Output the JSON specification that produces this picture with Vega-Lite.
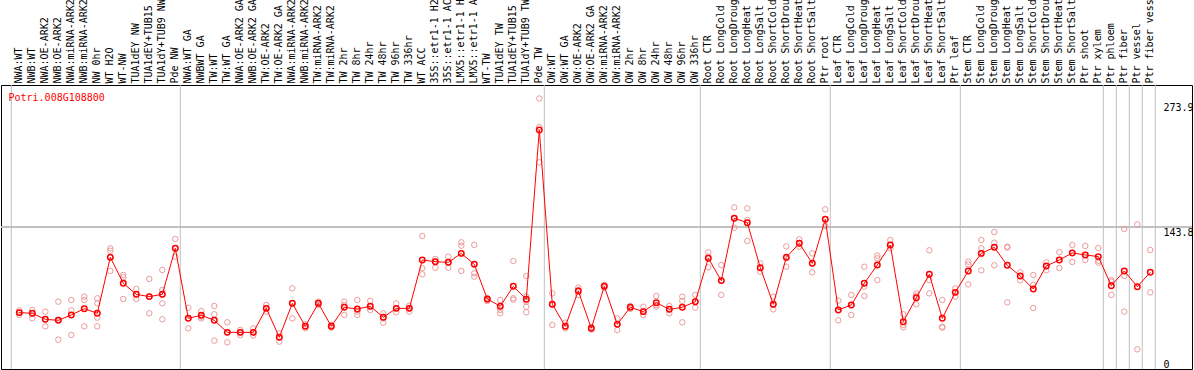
{
 "$schema": "https://vega.github.io/schema/vega-lite/v6.json",
 "width": 1191, "height": 284,
 "autosize": {"type": "none"},
 "padding": {"left": 1, "top": 85, "right": 2, "bottom": 1},
 "background": "white",
 "config": {"view": {"stroke": "black", "strokeWidth": 1}, "font": "DejaVu Sans Mono"},
 "title": {"text": "Potri.008G108800", "orient": "bottom", "anchor": "start", "offset": -277, "dx": 8, "color": "#ff0000", "font": "DejaVu Sans Mono", "fontSize": 10, "fontWeight": "normal"},
 "data": {"values": [
  {"sample": "NWA:WT", "mean": 57.1, "reps": [59.4, 57.1, 54.7]},
  {"sample": "NWB:WT", "mean": 56.4, "reps": [59.8, 56.4, 51.3]},
  {"sample": "NWA:OE-ARK2", "mean": 50.3, "reps": [58.1, 50.3, 43.2]},
  {"sample": "NWB:OE-ARK2", "mean": 49.3, "reps": [68.2, 50.0, 29.7]},
  {"sample": "NWA:miRNA-ARK2", "mean": 54.7, "reps": [69.9, 59.4, 34.4]},
  {"sample": "NWB:miRNA-ARK2", "mean": 61.1, "reps": [73.3, 69.9, 43.2]},
  {"sample": "NW 0hr", "mean": 56.4, "reps": [71.6, 66.5, 52.0, 43.2]},
  {"sample": "WT H2O", "mean": 113.1, "reps": [122.2, 119.8, 113.1, 99.3]},
  {"sample": "WT-NW", "mean": 86.8, "reps": [95.2, 92.8, 70.9]},
  {"sample": "TUA1dEY NW", "mean": 75.6, "reps": [81.0, 75.6, 70.9]},
  {"sample": "TUA1dEY+TUB15 NW", "mean": 73.3, "reps": [91.2, 73.3, 56.4]},
  {"sample": "TUA1dY+TUB9 NW", "mean": 75.6, "reps": [100.3, 80.0, 75.0, 66.5, 50.3]},
  {"sample": "Pde NW", "mean": 122.2, "reps": [131.7, 122.2, 113.8]},
  {"sample": "NWA:WT GA", "mean": 51.3, "reps": [62.1, 51.3, 41.2]},
  {"sample": "NWBWT GA", "mean": 54.4, "reps": [58.7, 53.0, 51.3]},
  {"sample": "TW:WT", "mean": 49.3, "reps": [63.8, 55.4, 28.7]},
  {"sample": "TW:WT GA", "mean": 37.1, "reps": [47.3, 37.1, 27.0]},
  {"sample": "NWA:OE-ARK2 GA", "mean": 37.1, "reps": [39.5, 37.1, 34.4]},
  {"sample": "NWB:OE-ARK2 GA", "mean": 37.1, "reps": [41.2, 37.1, 33.8]},
  {"sample": "TW:OE-ARK2", "mean": 61.4, "reps": [64.8, 61.4, 58.1]},
  {"sample": "TW:OE-ARK2 GA", "mean": 32.1, "reps": [36.1, 32.1, 27.7]},
  {"sample": "NWA:miRNA-ARK2 GA", "mean": 66.5, "reps": [81.7, 66.5, 51.3]},
  {"sample": "NWB:miRNA-ARK2 GA", "mean": 43.2, "reps": [45.2, 43.2, 41.2]},
  {"sample": "TW:miRNA-ARK2", "mean": 66.5, "reps": [68.2, 66.5, 64.8]},
  {"sample": "TW:miRNA-ARK2 GA", "mean": 43.2, "reps": [44.6, 43.2, 41.9]},
  {"sample": "TW 2hr", "mean": 62.5, "reps": [68.2, 64.8, 54.7]},
  {"sample": "TW 8hr", "mean": 60.8, "reps": [69.9, 58.1, 54.7]},
  {"sample": "TW 24hr", "mean": 63.5, "reps": [68.9, 63.1, 59.8]},
  {"sample": "TW 48hr", "mean": 52.3, "reps": [56.4, 51.3, 46.9]},
  {"sample": "TW 96hr", "mean": 61.4, "reps": [66.5, 61.4, 57.4]},
  {"sample": "TW 336hr", "mean": 61.4, "reps": [64.1, 61.4, 58.1]},
  {"sample": "WT ACC", "mean": 110.4, "reps": [134.7, 102.0, 95.9]},
  {"sample": "35S::etr1-1 H2O", "mean": 108.7, "reps": [111.4, 108.7, 102.6]},
  {"sample": "35S::etr1-1 ACC", "mean": 108.0, "reps": [113.8, 108.0, 102.6]},
  {"sample": "LMX5::etr1-1 H2O", "mean": 117.1, "reps": [128.3, 124.9, 99.3]},
  {"sample": "LMX5::etr1-1 ACC", "mean": 106.0, "reps": [125.6, 96.9, 93.5]},
  {"sample": "WT-TW", "mean": 70.9, "reps": [71.6, 69.9, 68.9]},
  {"sample": "TUA1dEY TW", "mean": 63.5, "reps": [69.9, 59.8, 56.4]},
  {"sample": "TUA1dEY+TUB15 TW", "mean": 83.7, "reps": [109.4, 71.6, 70.2]},
  {"sample": "TUA1dY+TUB9 TW", "mean": 70.6, "reps": [94.2, 73.3, 68.2, 63.1, 57.4]},
  {"sample": "Pde TW", "mean": 242.1, "reps": [273.9, 245.0, 209.3]},
  {"sample": "OW:WT", "mean": 65.5, "reps": [76.6, 65.5, 44.6]},
  {"sample": "OW:WT GA", "mean": 43.2, "reps": [46.9, 43.2, 41.2]},
  {"sample": "OW:OE-ARK2", "mean": 79.0, "reps": [82.4, 80.0, 75.0]},
  {"sample": "OW:OE-ARK2 GA", "mean": 41.2, "reps": [42.5, 41.2, 39.8]},
  {"sample": "OW:miRNA-ARK2", "mean": 83.7, "reps": [85.1, 83.7, 82.4]},
  {"sample": "OW:miRNA-ARK2 GA", "mean": 45.2, "reps": [51.3, 45.2, 39.5]},
  {"sample": "OW 2hr", "mean": 62.5, "reps": [63.8, 62.5, 60.8]},
  {"sample": "OW 8hr", "mean": 58.1, "reps": [63.1, 58.1, 54.7]},
  {"sample": "OW 24hr", "mean": 67.2, "reps": [73.9, 64.8, 63.1]},
  {"sample": "OW 48hr", "mean": 60.4, "reps": [63.8, 60.4, 56.4]},
  {"sample": "OW 96hr", "mean": 62.5, "reps": [73.3, 68.9, 47.3]},
  {"sample": "OW 336hr", "mean": 68.2, "reps": [75.0, 68.2, 62.1]},
  {"sample": "Root CTR", "mean": 112.1, "reps": [118.2, 113.8, 103.0]},
  {"sample": "Root LongCold", "mean": 89.5, "reps": [105.3, 89.5, 75.0]},
  {"sample": "Root LongDrought", "mean": 152.6, "reps": [163.7, 152.6, 143.1]},
  {"sample": "Root LongHeat", "mean": 148.2, "reps": [162.7, 150.9, 129.6]},
  {"sample": "Root LongSalt", "mean": 102.6, "reps": [107.0, 102.6, 98.6]},
  {"sample": "Root ShortCold", "mean": 65.5, "reps": [73.3, 64.8, 60.4]},
  {"sample": "Root ShortDrought", "mean": 113.1, "reps": [124.2, 112.1, 103.6]},
  {"sample": "Root ShortHeat", "mean": 127.3, "reps": [131.3, 127.3, 123.9]},
  {"sample": "Root ShortSalt", "mean": 107.0, "reps": [117.1, 107.0, 97.9]},
  {"sample": "Ptr root", "mean": 151.6, "reps": [161.7, 151.6, 144.8]},
  {"sample": "Leaf CTR", "mean": 59.8, "reps": [69.2, 59.8, 49.3]},
  {"sample": "Leaf LongCold", "mean": 64.8, "reps": [75.0, 64.8, 54.7]},
  {"sample": "Leaf LongDrought", "mean": 86.8, "reps": [103.6, 83.4, 73.9]},
  {"sample": "Leaf LongHeat", "mean": 105.3, "reps": [114.8, 112.1, 90.1]},
  {"sample": "Leaf LongSalt", "mean": 125.6, "reps": [130.6, 125.6, 122.2]},
  {"sample": "Leaf ShortCold", "mean": 47.9, "reps": [55.4, 44.6, 42.2]},
  {"sample": "Leaf ShortDrought", "mean": 72.2, "reps": [76.6, 74.3, 65.5]},
  {"sample": "Leaf ShortHeat", "mean": 95.9, "reps": [120.2, 90.1, 76.6]},
  {"sample": "Leaf ShortSalt", "mean": 51.3, "reps": [69.9, 42.9, 41.9]},
  {"sample": "Ptr leaf", "mean": 77.6, "reps": [81.7, 77.6, 73.3]},
  {"sample": "Stem CTR", "mean": 99.3, "reps": [108.7, 106.0, 85.7]},
  {"sample": "Stem LongCold", "mean": 117.1, "reps": [130.6, 122.2, 99.9]},
  {"sample": "Stem LongDrought", "mean": 123.2, "reps": [138.7, 127.9, 105.0]},
  {"sample": "Stem LongHeat", "mean": 105.0, "reps": [123.9, 122.9, 67.5]},
  {"sample": "Stem LongSalt", "mean": 94.2, "reps": [97.9, 94.2, 89.8]},
  {"sample": "Stem ShortCold", "mean": 81.0, "reps": [95.2, 85.1, 61.8]},
  {"sample": "Stem ShortDrought", "mean": 104.3, "reps": [108.0, 104.3, 99.9]},
  {"sample": "Stem ShortHeat", "mean": 110.4, "reps": [118.2, 110.4, 102.3]},
  {"sample": "Stem ShortSalt", "mean": 117.5, "reps": [125.6, 117.5, 108.4]},
  {"sample": "Ptr shoot", "mean": 115.5, "reps": [124.6, 115.5, 110.4]},
  {"sample": "Ptr xylem", "mean": 113.8, "reps": [122.5, 109.7, 107.7]},
  {"sample": "Ptr phloem", "mean": 84.4, "reps": [90.1, 88.4, 75.0]},
  {"sample": "Ptr fiber", "mean": 99.3, "reps": [141.8, 94.2, 58.1]},
  {"sample": "Ptr vessel", "mean": 83.4, "reps": [146.5, 19.9]},
  {"sample": "Ptr fiber vessel", "mean": 97.9, "reps": [120.5, 77.6]}
 ]},
 "layer": [
  {
   "mark": {"type": "rule", "color": "#c0c0c0", "strokeWidth": 1},
   "encoding": {"y": {"datum": 143.8, "type": "quantitative"}}
  },
  {
   "transform": [{"filter": {"field": "sample", "oneOf": ["NWA:WT", "NWA:WT GA", "OW:WT", "Root CTR", "Leaf CTR", "Stem CTR", "Ptr phloem", "Ptr fiber", "Ptr vessel", "Ptr fiber vessel"]}}],
   "mark": {"type": "rule", "color": "#c0c0c0", "strokeWidth": 1, "xOffset": -1.5},
   "encoding": {
    "x": {"field": "sample", "type": "nominal", "bandPosition": 0,
     "scale": {"type": "band", "range": [11.8, 1155.8], "paddingInner": 0, "paddingOuter": 0,
      "domain": ["NWA:WT","NWB:WT","NWA:OE-ARK2","NWB:OE-ARK2","NWA:miRNA-ARK2","NWB:miRNA-ARK2","NW 0hr","WT H2O","WT-NW","TUA1dEY NW","TUA1dEY+TUB15 NW","TUA1dY+TUB9 NW","Pde NW","NWA:WT GA","NWBWT GA","TW:WT","TW:WT GA","NWA:OE-ARK2 GA","NWB:OE-ARK2 GA","TW:OE-ARK2","TW:OE-ARK2 GA","NWA:miRNA-ARK2 GA","NWB:miRNA-ARK2 GA","TW:miRNA-ARK2","TW:miRNA-ARK2 GA","TW 2hr","TW 8hr","TW 24hr","TW 48hr","TW 96hr","TW 336hr","WT ACC","35S::etr1-1 H2O","35S::etr1-1 ACC","LMX5::etr1-1 H2O","LMX5::etr1-1 ACC","WT-TW","TUA1dEY TW","TUA1dEY+TUB15 TW","TUA1dY+TUB9 TW","Pde TW","OW:WT","OW:WT GA","OW:OE-ARK2","OW:OE-ARK2 GA","OW:miRNA-ARK2","OW:miRNA-ARK2 GA","OW 2hr","OW 8hr","OW 24hr","OW 48hr","OW 96hr","OW 336hr","Root CTR","Root LongCold","Root LongDrought","Root LongHeat","Root LongSalt","Root ShortCold","Root ShortDrought","Root ShortHeat","Root ShortSalt","Ptr root","Leaf CTR","Leaf LongCold","Leaf LongDrought","Leaf LongHeat","Leaf LongSalt","Leaf ShortCold","Leaf ShortDrought","Leaf ShortHeat","Leaf ShortSalt","Ptr leaf","Stem CTR","Stem LongCold","Stem LongDrought","Stem LongHeat","Stem LongSalt","Stem ShortCold","Stem ShortDrought","Stem ShortHeat","Stem ShortSalt","Ptr shoot","Ptr xylem","Ptr phloem","Ptr fiber","Ptr vessel","Ptr fiber vessel"]},
     "axis": {"orient": "top", "title": null, "labelAngle": 270, "labelAlign": "left", "labelBaseline": "middle", "labelPadding": 2, "ticks": false, "domain": false, "grid": false, "labelFont": "DejaVu Sans Mono", "labelFontSize": 10, "labelColor": "#000000", "labelLimit": 0, "labelOverlap": false}}
   }
  },
  {
   "transform": [{"filter": {"field": "sample", "equal": "Ptr fiber vessel"}}],
   "mark": {"type": "rule", "color": "#c0c0c0", "strokeWidth": 1, "xOffset": -1.5},
   "encoding": {"x": {"field": "sample", "type": "nominal", "bandPosition": 1}}
  },
  {
   "transform": [{"flatten": ["reps"], "as": ["rep"]}],
   "mark": {"type": "point", "shape": "circle", "filled": false, "color": "#ec9a9a", "size": 30, "strokeWidth": 1, "opacity": 1},
   "encoding": {
    "x": {"field": "sample", "type": "nominal"},
    "y": {"field": "rep", "type": "quantitative",
     "scale": {"domain": [0, 287.6], "nice": false, "zero": true},
     "axis": {"orient": "right", "title": null, "values": [0, 143.8, 273.9], "labelExpr": "'' + datum.value", "ticks": false, "domain": false, "grid": false, "labelAlign": "left", "labelPadding": -29, "labelBaseline": {"condition": {"test": "datum.value == 0", "value": "bottom"}, "value": "top"}, "labelOffset": {"condition": {"test": "datum.value > 200", "value": 4}, "value": 0}, "labelFont": "DejaVu Sans Mono", "labelFontSize": 10, "labelColor": "#000000", "labelFlush": false}}
   }
  },
  {
   "mark": {"type": "line", "color": "#ff0000", "strokeWidth": 1},
   "encoding": {
    "x": {"field": "sample", "type": "nominal"},
    "y": {"field": "mean", "type": "quantitative"}
   }
  },
  {
   "mark": {"type": "point", "shape": "circle", "filled": false, "color": "#ff0000", "size": 30, "strokeWidth": 1.5, "opacity": 1},
   "encoding": {
    "x": {"field": "sample", "type": "nominal"},
    "y": {"field": "mean", "type": "quantitative"}
   }
  }
 ]
}
